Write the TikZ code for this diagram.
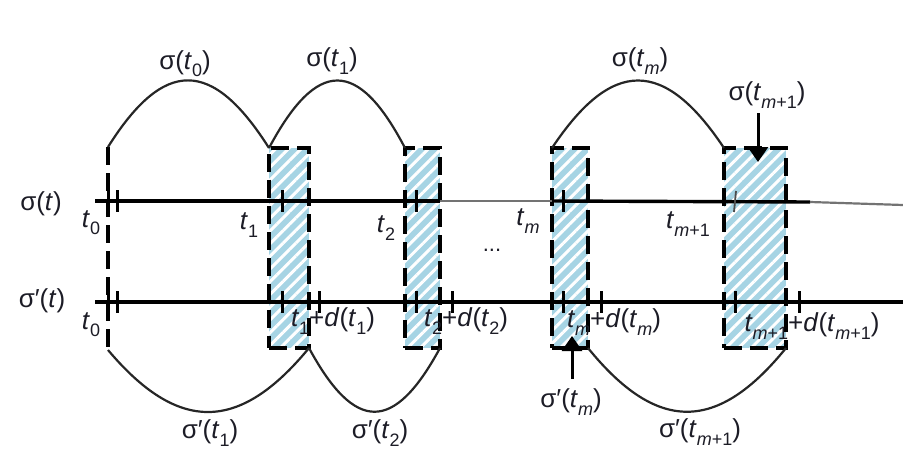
\documentclass[tikz,border=0pt]{standalone}
\usepackage{fontspec}
\setmainfont{Liberation Sans}
\usetikzlibrary{arrows.meta,patterns.meta}
\definecolor{hb}{HTML}{A6D4E4}
\definecolor{ink}{HTML}{1C1C26}
\newcommand\sbx[1]{\raisebox{-0.28em}{\fontsize{18}{18}\selectfont #1}}
\newcommand\ti{\textit{t}}
\tikzset{
  lbl/.style={text=ink, inner sep=0pt, font=\fontsize{26}{28}\selectfont},
  hbox/.style={rectangle, draw=black, line width=3.6pt, dash pattern=on 18pt off 8pt,
     preaction={fill=hb},
     preaction={pattern={Lines[angle=45,distance=9pt,line width=3pt]}, pattern color=white},
     minimum height=200pt, inner sep=0pt, outer sep=0pt},
  axis/.style={line width=3.4pt, black},
  arcline/.style={line width=2.2pt, black!85},
  dline/.style={line width=3.6pt, black, dash pattern=on 18pt off 8pt},
  tick/.style={line width=3pt, black},
  arr/.style={line width=3pt, -{Triangle[length=15pt,width=20pt]}}
}
\begin{document}
\begin{tikzpicture}[x=1pt,y=-1pt]
\useasboundingbox (0,0) rectangle (903,450);
% boxes
\node[hbox, minimum width=40pt] (b1) at (289,248) {};
\node[hbox, minimum width=35pt] (b2) at (422.5,248) {};
\node[hbox, minimum width=36pt] (b3) at (570,248) {};
\node[hbox, minimum width=62pt] (b4) at (755,248) {};
% t0 dashed line
\coordinate (d0t) at (108,147);
\coordinate (d0b) at (108,350);
\draw[dline] (d0t) -- (d0b);
% axes
\coordinate (s0) at (95,201);
\coordinate (sA) at (440,201);
\coordinate (sB) at (552,201);
\coordinate (sC) at (810,202);
\coordinate (sE) at (903,205);
\draw[axis] (s0) -- (sA);
\draw[line width=2.4pt, black!55] (sA) -- (sB);
\draw[axis] (sB) -- (sC);
\draw[line width=2.2pt, black!55] (sC) -- (sE);
\coordinate (p0) at (95,302);
\coordinate (pE) at (903,302);
\draw[axis] (p0) -- (pE);
% ticks
\foreach \x in {108,117,282,416,563} \draw[tick] (\x,190) -- (\x,212);
\draw[line width=1.8pt, black!70] (736,191) -- (734,212);
\foreach \x in {108,117,282,319,416,452,563,601,735,799} \draw[tick] (\x,291) -- (\x,313);
% top arcs
\draw[arcline] (d0t) .. controls (164,58) and (212,58) .. (b1.north west);
\draw[arcline] (b1.north west) .. controls (317,58) and (358,58) .. (b2.north west);
\draw[arcline] (b3.north west) .. controls (612,58) and (664,58) .. (b4.north west);
% bottom arcs
\draw[arcline] (d0b) .. controls (178,433) and (239,433) .. (b1.south east);
\draw[arcline] (b1.south east) .. controls (355,433) and (394,433) .. (b2.south east);
\draw[arcline] (b3.south east) .. controls (657,433) and (717,433) .. (b4.south east);
% labels
\node[lbl] (ls) at (41,204) {σ(\ti)};
\node[lbl] (lp) at (42,301) {σ′(\ti)};
\node[lbl] (t0a) at (91,223) {\ti\sbx{0}};
\node[lbl] (t0b) at (91,325) {\ti\sbx{0}};
\node[lbl] (t1) at (249,225) {\ti\sbx{1}};
\node[lbl] (t2) at (386,228) {\ti\sbx{2}};
\node[lbl] (tm) at (528,221) {\ti\sbx{\textit{m}}};
\node[lbl] (tm1) at (688,224) {\ti\sbx{\textit{m}+1}};
\node[lbl, font=\fontsize{22}{22}\selectfont] (dots) at (492,250) {...};
\node[lbl] (d1) at (333,321) {\ti\sbx{1}+\textit{d}(\ti\sbx{1})};
\node[lbl] (d2) at (466,321) {\ti\sbx{2}+\textit{d}(\ti\sbx{2})};
\node[lbl] (dm) at (614,322) {\ti\sbx{\textit{m}}+\textit{d}(\ti\sbx{\textit{m}})};
\node[lbl] (dm1) at (812,326) {\ti\sbx{\textit{m}+1}+\textit{d}(\ti\sbx{\textit{m}+1})};
\node[lbl] (s0l) at (185,64) {σ(\ti\sbx{0})};
\node[lbl] (s1l) at (332,61) {σ(\ti\sbx{1})};
\node[lbl] (sml) at (640,61) {σ(\ti\sbx{\textit{m}})};
\node[lbl] (sm1l) at (767,95) {σ(\ti\sbx{\textit{m}+1})};
\node[lbl] (p1l) at (210,433) {σ′(\ti\sbx{1})};
\node[lbl] (p2l) at (380,433) {σ′(\ti\sbx{2})};
\node[lbl] (pml) at (571,402) {σ′(\ti\sbx{\textit{m}})};
\node[lbl] (pm1l) at (700,432) {σ′(\ti\sbx{\textit{m}+1})};
% arrows
\coordinate (a4s) at (758,113);
\coordinate (a4e) at (758,162);
\draw[arr] (a4s) -- (a4e);
\coordinate (a3s) at (572,379);
\coordinate (a3e) at (572,336);
\draw[arr] (a3s) -- (a3e);
\end{tikzpicture}
\end{document}
